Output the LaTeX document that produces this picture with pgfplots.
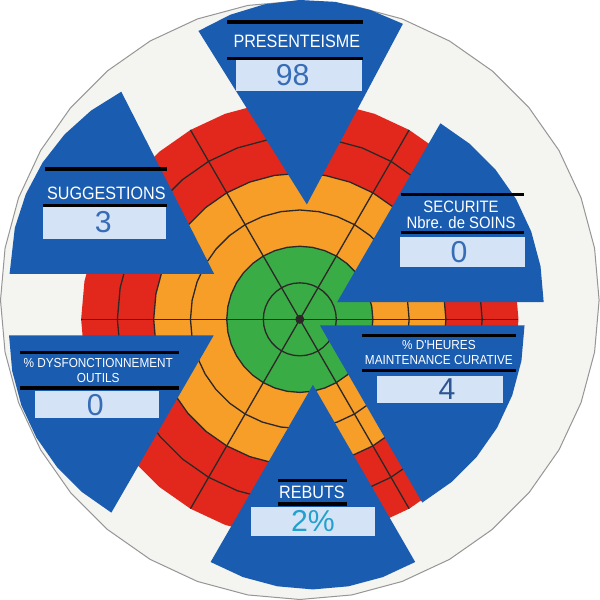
\documentclass[border=0pt]{standalone}
\usepackage{pgfplots}
\pgfplotsset{compat=1.18}
\usepackage{pgfplotstable}
\usepgfplotslibrary{polar}
\usepackage{fontspec}
\setmainfont{Liberation Sans}
\newfontfamily\lab[FakeStretch=0.9]{Liberation Sans}

\definecolor{disk}{RGB}{244,244,241}
\definecolor{rim}{RGB}{150,150,150}
\definecolor{cred}{RGB}{226,40,28}
\definecolor{corange}{RGB}{246,158,40}
\definecolor{cgreen}{RGB}{58,172,70}
\definecolor{cblue}{RGB}{26,92,176}
\definecolor{boxblue}{RGB}{212,228,246}
\definecolor{ink}{RGB}{55,108,182}
\definecolor{inkteal}{RGB}{35,160,205}
\definecolor{gridline}{RGB}{45,40,40}

% rings of the dial: angle (deg) and radius of each circle, in image pixels
\pgfplotstableread{
a    r36   r72   r108  r145  r181  r217  disk
0    36.2  72.5  108.5 145   181   217   297
10   36.2  72.5  108.5 145   181   217   297
20   36.2  72.5  108.5 145   181   217   297
30   36.2  72.5  108.5 145   181   217   297
40   36.2  72.5  108.5 145   181   217   297
50   36.2  72.5  108.5 145   181   217   297
60   36.2  72.5  108.5 145   181   217   297
70   36.2  72.5  108.5 145   181   217   297
80   36.2  72.5  108.5 145   181   217   297
90   36.2  72.5  108.5 145   181   217   297
100  36.2  72.5  108.5 145   181   217   297
110  36.2  72.5  108.5 145   181   217   297
120  36.2  72.5  108.5 145   181   217   297
130  36.2  72.5  108.5 145   181   217   297
140  36.2  72.5  108.5 145   181   217   297
150  36.2  72.5  108.5 145   181   217   297
160  36.2  72.5  108.5 145   181   217   297
170  36.2  72.5  108.5 145   181   217   297
180  36.2  72.5  108.5 145   181   217   297
190  36.2  72.5  108.5 145   181   217   297
200  36.2  72.5  108.5 145   181   217   297
210  36.2  72.5  108.5 145   181   217   297
220  36.2  72.5  108.5 145   181   217   297
230  36.2  72.5  108.5 145   181   217   297
240  36.2  72.5  108.5 145   181   217   297
250  36.2  72.5  108.5 145   181   217   297
260  36.2  72.5  108.5 145   181   217   297
270  36.2  72.5  108.5 145   181   217   297
280  36.2  72.5  108.5 145   181   217   297
290  36.2  72.5  108.5 145   181   217   297
300  36.2  72.5  108.5 145   181   217   297
310  36.2  72.5  108.5 145   181   217   297
320  36.2  72.5  108.5 145   181   217   297
330  36.2  72.5  108.5 145   181   217   297
340  36.2  72.5  108.5 145   181   217   297
350  36.2  72.5  108.5 145   181   217   297
360  36.2  72.5  108.5 145   181   217   297
}\rings

\begin{document}
\begin{tikzpicture}
\begin{axis}[
    x=0.5pt, y=0.5pt,
    xmin=-300, xmax=300, ymin=-283, ymax=317,
    hide axis,
    clip=true,
    ]

% white card
\addplot[fill=disk, draw=rim, line width=0.5pt, data cs=polar, yshift=9.5pt]
    table[x=a, y=disk] {\rings};

% coloured zones
\addplot[fill=cred, draw=none, data cs=polar] table[x=a, y=r217] {\rings};
\addplot[fill=corange, draw=none, data cs=polar] table[x=a, y=r145] {\rings};
\addplot[fill=cgreen, draw=none, data cs=polar] table[x=a, y=r72] {\rings};

% grid of the dial
\addplot[gridline, line width=0.65pt, data cs=polar] table[x=a, y=r36] {\rings};
\addplot[gridline, line width=0.65pt, data cs=polar] table[x=a, y=r72] {\rings};
\addplot[gridline, line width=0.65pt, data cs=polar] table[x=a, y=r108] {\rings};
\addplot[gridline, line width=0.65pt, data cs=polar] table[x=a, y=r145] {\rings};
\addplot[gridline, line width=0.65pt, data cs=polar] table[x=a, y=r181] {\rings};
\addplot[gridline, line width=0.65pt, data cs=polar] coordinates {(0,217) (180,217)};
\addplot[gridline, line width=0.65pt, data cs=polar] coordinates {(60,217) (240,217)};
\addplot[gridline, line width=0.65pt, data cs=polar] coordinates {(120,217) (300,217)};
\addplot[only marks, mark=*, mark size=2pt, gridline] coordinates {(0,0)};

% blue cursors (apex shifted to the indicator's position)
\addplot[fill=cblue, draw=none, data cs=polar, xshift=3.5pt, yshift=57pt]
    coordinates {(0,0) (62,203) (72,203) (82,203) (92,203) (102,203) (112,203) (122,203) (0,0)};
\addplot[fill=cblue, draw=none, data cs=polar, xshift=18.5pt, yshift=8.5pt]
    coordinates {(0,0) (0,205) (10,205) (20,205) (30,205) (40,205) (50,205) (60,205) (0,0)};
\addplot[fill=cblue, draw=none, data cs=polar, xshift=10pt, yshift=-3pt]
    coordinates {(0,0) (-60,203) (-50,203) (-40,203) (-30,203) (-20,203) (-10,203) (0,203) (0,0)};
\addplot[fill=cblue, draw=none, data cs=polar, xshift=6.5pt, yshift=-32.5pt]
    coordinates {(0,0) (-120,203) (-110,203) (-100,203) (-90,203) (-80,203) (-70,203) (-60,203) (0,0)};
\addplot[fill=cblue, draw=none, data cs=polar, xshift=-42.75pt, yshift=-8pt]
    coordinates {(0,0) (180,203) (190,203) (200,203) (210,203) (220,203) (230,203) (240,203) (0,0)};
\addplot[fill=cblue, draw=none, data cs=polar, xshift=-42.5pt, yshift=22.5pt]
    coordinates {(0,0) (117,203) (127,203) (137,203) (147,203) (157,203) (167,203) (180,203) (0,0)};

% label plates: black rules and light value boxes
\addplot[black, line width=1.75pt] coordinates {(-72,295) (63,295)};
\addplot[black, line width=1.75pt] coordinates {(-72,259) (63,259)};
\addplot[fill=boxblue, draw=none] coordinates {(-63,257) (62,257) (62,227) (-63,227)};

\addplot[black, line width=1.75pt] coordinates {(-253,149) (-132,149)};
\addplot[black, line width=1.75pt] coordinates {(-255,113) (-132,113)};
\addplot[fill=boxblue, draw=none] coordinates {(-255,111) (-133,111) (-133,80) (-255,80)};

\addplot[black, line width=1.75pt] coordinates {(100,124) (222,124)};
\addplot[black, line width=1.75pt] coordinates {(100,86) (222,86)};
\addplot[fill=boxblue, draw=none] coordinates {(99,82) (223,82) (223,52) (99,52)};

\addplot[black, line width=1.75pt] coordinates {(62,-16) (215,-16)};
\addplot[black, line width=1.75pt] coordinates {(62,-51) (215,-51)};
\addplot[fill=boxblue, draw=none] coordinates {(77,-56) (202,-56) (202,-83) (77,-83)};

\addplot[black, line width=1.75pt] coordinates {(-22,-160) (47,-160)};
\addplot[black, line width=1.75pt] coordinates {(-22,-183) (47,-183)};
\addplot[fill=boxblue, draw=none] coordinates {(-48,-186) (75,-186) (75,-215) (-48,-215)};

\addplot[black, line width=1.75pt] coordinates {(-278,-33) (-120,-33)};
\addplot[black, line width=1.75pt] coordinates {(-278,-68) (-120,-68)};
\addplot[fill=boxblue, draw=none] coordinates {(-263,-71) (-140,-71) (-140,-98) (-263,-98)};

% titles
\node[white, font=\lab\fontsize{8.9}{9}\selectfont] at (axis cs:-3,276) {PRESENTEISME};
\node[white, font=\lab\fontsize{8.9}{9}\selectfont] at (axis cs:-192,125) {SUGGESTIONS};
\node[white, font=\lab\fontsize{8.2}{8.2}\selectfont, align=center, inner sep=0pt]
    at (axis cs:160,104) {SECURITE\\[-0.4pt]Nbre. de SOINS};
\node[white, font=\lab\fontsize{6.5}{7.4}\selectfont, align=center, inner sep=0pt]
    at (axis cs:138,-33) {\% D'HEURES\\MAINTENANCE CURATIVE};
\node[white, font=\lab\fontsize{8.9}{9}\selectfont] at (axis cs:12,-172) {REBUTS};
\node[white, font=\lab\fontsize{6.5}{7.4}\selectfont, align=center, inner sep=0pt]
    at (axis cs:-200,-51) {\% DYSFONCTIONNEMENT\\OUTILS};

% written values
\node[ink, font=\fontsize{15}{15}\selectfont] at (axis cs:-7,242) {98};
\node[ink, font=\fontsize{15}{15}\selectfont] at (axis cs:-195,96) {3};
\node[ink, font=\fontsize{15}{15}\selectfont] at (axis cs:158,67) {0};
\node[ink!80!black, font=\fontsize{15}{15}\selectfont] at (axis cs:146,-69) {4};
\node[inkteal, font=\fontsize{15}{15}\selectfont] at (axis cs:13,-200) {2\%};
\node[ink, font=\fontsize{15}{15}\selectfont] at (axis cs:-203,-85) {0};
\end{axis}
\end{tikzpicture}
\end{document}
